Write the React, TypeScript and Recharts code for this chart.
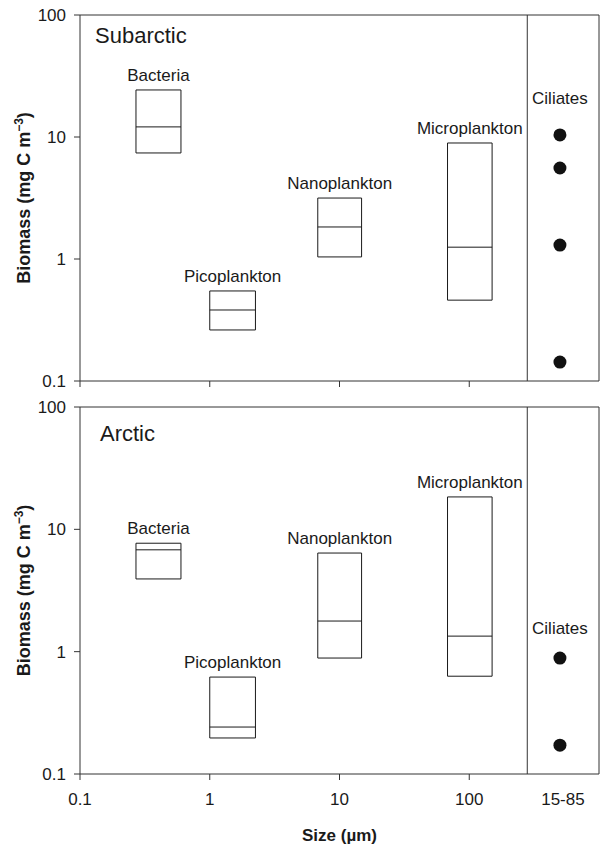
import React from "react";
import {
  ComposedChart,
  XAxis,
  YAxis,
  Scatter,
  ReferenceArea,
  ReferenceLine,
  LabelList,
} from "recharts";

// size classes (µm) and the biomass ranges
const groups = ["Bacteria", "Picoplankton", "Nanoplankton", "Microplankton"];
const sizeLow = [0.27, 1.0, 6.8, 68];
const sizeHigh = [0.6, 2.25, 14.8, 150];

const subarcticLow = [7.4, 0.262, 1.04, 0.46];
const subarcticMedian = [12.1, 0.382, 1.83, 1.25];
const subarcticHigh = [24.3, 0.547, 3.16, 8.93];
const subarcticCiliates = [10.4, 5.57, 1.3, 0.143];

const arcticLow = [3.93, 0.197, 0.887, 0.63];
const arcticMedian = [6.8, 0.242, 1.78, 1.34];
const arcticHigh = [7.7, 0.62, 6.4, 18.4];
const arcticCiliates = [0.887, 0.172];

const ciliateX = 500;
const separatorX = 280;
const xTicks = [0.1, 1, 10, 100];
const yTicks = [0.1, 1, 10, 100];
const ciliateTick = "15-85";

const FONT = "'Liberation Sans', Arial, Helvetica, sans-serif";
const INK = "#1a1a1a";
const AXIS = "#333";

function XTick(props: any) {
  const { x, y, payload, showLabels } = props;
  const isCiliate = payload.value === ciliateX;
  return (
    <g>
      {!isCiliate && <line x1={x} x2={x} y1={y - 6} y2={y} stroke={AXIS} />}
      {showLabels && (
        <text x={x + (isCiliate ? 3 : 0)} y={y + 25} textAnchor="middle" fontSize={17} fill={INK} fontFamily={FONT}>
          {isCiliate ? ciliateTick : String(payload.value)}
        </text>
      )}
    </g>
  );
}

function YTitle(props: any) {
  const { viewBox } = props;
  const cx = 30;
  const cy = viewBox.y + viewBox.height / 2;
  return (
    <text
      x={cx}
      y={cy}
      transform={`rotate(-90, ${cx}, ${cy})`}
      textAnchor="middle"
      fontSize={18}
      fontWeight="bold"
      fill={INK}
      fontFamily={FONT}
    >
      Biomass (mg C m<tspan dy={-7} fontSize={12}>−3</tspan>
      <tspan dy={7}>)</tspan>
    </text>
  );
}

type PanelProps = {
  title: string;
  low: number[];
  median: number[];
  high: number[];
  ciliates: number[];
  height: number;
  top: number;
  xHeight: number;
  showXLabels: boolean;
  ciliateGap: number;
};

function Panel(p: PanelProps) {
  const ciliateData = p.ciliates.map((v) => ({ x: ciliateX, y: v }));
  return (
    <ComposedChart
      width={601}
      height={p.height}
      margin={{ top: p.top, right: 2, left: 0, bottom: 0 }}
      style={{ fontFamily: FONT }}
    >
      <XAxis
        dataKey="x"
        type="number"
        scale="log"
        domain={[0.1, 1000]}
        allowDataOverflow
        ticks={p.showXLabels ? [...xTicks, ciliateX] : xTicks}
        interval={0}
        height={p.xHeight}
        stroke={AXIS}
        tickLine={false}
        tickSize={6}
        tickMargin={0}
        tick={<XTick showLabels={p.showXLabels} />}
        label={
          p.showXLabels
            ? {
                value: "Size (µm)",
                position: "insideBottom",
                offset: 3,
                fontSize: 17,
                fontWeight: "bold",
                fill: INK,
              }
            : undefined
        }
      />
      <YAxis
        dataKey="y"
        type="number"
        scale="log"
        domain={[0.1, 100]}
        allowDataOverflow
        ticks={yTicks}
        interval={0}
        width={80}
        stroke={AXIS}
        tickSize={6}
        tickMargin={8}
        tick={{ fontSize: 17, fill: INK }}
        label={<YTitle />}
      />
      <ReferenceLine y={100} stroke={AXIS} ifOverflow="extendDomain" />
      <ReferenceLine x={1000} stroke={AXIS} ifOverflow="extendDomain" />
      <ReferenceLine x={separatorX} stroke={AXIS} />
      {groups.map((g, i) => (
        <ReferenceArea
          key={g}
          x1={sizeLow[i]}
          x2={sizeHigh[i]}
          y1={p.low[i]}
          y2={p.high[i]}
          fill="#fff"
          fillOpacity={1}
          stroke={INK}
          strokeWidth={1}
          label={{ value: g, position: "top", offset: 9, fontSize: 17, fill: INK }}
        />
      ))}
      {groups.map((g, i) => (
        <ReferenceLine
          key={g + "-median"}
          segment={[
            { x: sizeLow[i], y: p.median[i] },
            { x: sizeHigh[i], y: p.median[i] },
          ]}
          stroke={INK}
        />
      ))}
      <Scatter
        data={ciliateData}
        isAnimationActive={false}
        fill={INK}
        shape={(s: any) => <circle cx={s.cx} cy={s.cy} r={6.5} fill="#111" />}
      >
        <LabelList
          dataKey="y"
          content={(l: any) =>
            l.index === 0 ? (
              <text
                x={l.x + l.width / 2}
                y={l.y + l.height / 2 - p.ciliateGap}
                textAnchor="middle"
                fontSize={17}
                fill={INK}
                fontFamily={FONT}
              >
                Ciliates
              </text>
            ) : null
          }
        />
      </Scatter>
    </ComposedChart>
  );
}

export default function App() {
  return (
    <div style={{ position: "absolute", left: 0, top: 0, width: 601, height: 844, background: "#fff", fontFamily: FONT }}>
      <Panel
        title="Subarctic"
        low={subarcticLow}
        median={subarcticMedian}
        high={subarcticHigh}
        ciliates={subarcticCiliates}
        height={390}
        top={15}
        xHeight={9}
        showXLabels={false}
        ciliateGap={31}
      />
      <Panel
        title="Arctic"
        low={arcticLow}
        median={arcticMedian}
        high={arcticHigh}
        ciliates={arcticCiliates}
        height={454}
        top={17}
        xHeight={70}
        showXLabels={true}
        ciliateGap={24}
      />
      <svg width={601} height={844} style={{ position: "absolute", left: 0, top: 0, pointerEvents: "none" }}>
        <text x={95} y={43} fontSize={22} fill={INK} fontFamily={FONT}>Subarctic</text>
        <text x={100} y={441} fontSize={22} fill={INK} fontFamily={FONT}>Arctic</text>
      </svg>
    </div>
  );
}
